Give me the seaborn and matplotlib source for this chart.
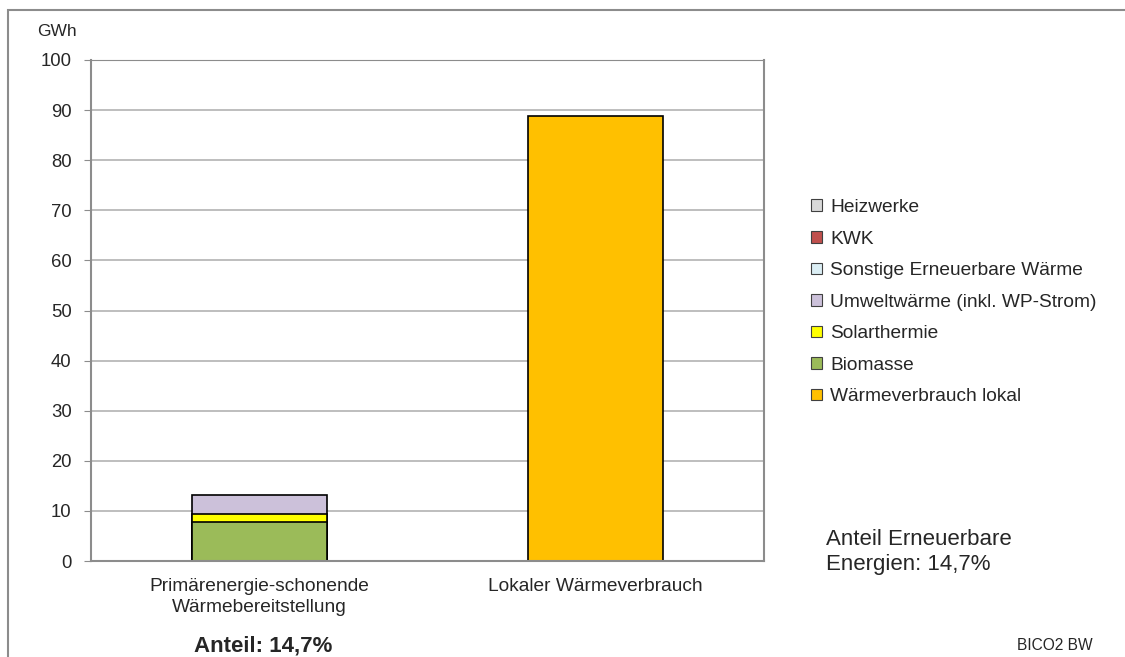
import numpy as np
import pandas as pd
import matplotlib
matplotlib.use('Agg')
import matplotlib.pyplot as plt
import matplotlib.patches as mpatches
import seaborn as sns

# Daten
kategorien = ['Primärenergie-schonende\nWärmebereitstellung', 'Lokaler Wärmeverbrauch']
serien = ['Heizwerke', 'KWK', 'Sonstige Erneuerbare Wärme',
          'Umweltwärme (inkl. WP-Strom)', 'Solarthermie', 'Biomasse',
          'Wärmeverbrauch lokal']
heizwerke = [0.0, 0.0]
kwk = [0.0, 0.0]
sonstige = [0.0, 0.0]
umweltwaerme = [3.7, 0.0]
solarthermie = [1.7, 0.0]
biomasse = [7.7, 0.0]
waermeverbrauch = [0.0, 88.9]

farben = ['#d9d9d9', '#c0504d', '#dbeef4', '#ccc1da', '#ffff00', '#9bbb59', '#ffc000']

sns.set_style('white')
plt.rcParams['font.family'] = ['Liberation Sans', 'DejaVu Sans']

fig = plt.figure(figsize=(11.25, 6.57), dpi=100)
ax = fig.add_axes([91/1125, 96/657, 673/1125, 501/657])

# gestapelt: von unten nach oben
werte = [biomasse, solarthermie, umweltwaerme, sonstige, kwk, heizwerke, waermeverbrauch]
namen = ['Biomasse', 'Solarthermie', 'Umweltwärme (inkl. WP-Strom)',
         'Sonstige Erneuerbare Wärme', 'KWK', 'Heizwerke', 'Wärmeverbrauch lokal']
farbmap = dict(zip(serien, farben))

kum = np.cumsum(np.array(werte), axis=0)
# von oben nach unten zeichnen, damit untere Segmente überdecken
for i in range(len(namen) - 1, -1, -1):
    hoehe = kum[i]
    eigen = np.array(werte[i])
    df = pd.DataFrame({'kat': kategorien, 'wert': np.where(eigen > 0, hoehe, np.nan)})
    if df['wert'].notna().sum() == 0:
        continue
    sns.barplot(data=df, x='kat', y='wert', order=kategorien, color=farbmap[namen[i]],
                width=0.4, edgecolor='black', linewidth=1.2, saturation=1, ax=ax)

ax.set_ylim(0, 100)
ax.set_xlim(-0.5, 1.5)
ax.set_yticks(np.arange(0, 101, 10))
ax.set_xlabel('')
ax.set_ylabel('')
ax.yaxis.grid(True, color='#b3b3b3', linewidth=1.2)
ax.set_axisbelow(True)
for s in ['left', 'bottom', 'right']:
    ax.spines[s].set_color('#8c8c8c')
    ax.spines[s].set_linewidth(1.5)
ax.spines['top'].set_color('#8c8c8c')
ax.tick_params(axis='y', left=True, length=5, color='#8c8c8c', labelsize=13.3, pad=9)
ax.tick_params(axis='x', bottom=False, labelsize=13.8, pad=9)
for lbl in ax.get_xticklabels():
    lbl.set_linespacing(1.25)

fig.text(57/1125, 1 - 31/657, 'GWh', ha='center', va='center', fontsize=12.5)

# Legende
handles = [mpatches.Patch(facecolor=farbmap[s], edgecolor='#404040', linewidth=0.8) for s in serien]
fig.legend(handles, serien, loc='upper left', bbox_to_anchor=(811/1125, 1 - 199/657),
           frameon=False, fontsize=13.8, handlelength=0.55, handleheight=0.55,
           handletextpad=0.45, labelspacing=0.76, borderpad=0, borderaxespad=0)

fig.text(826/1125, 1 - 552/657, 'Anteil Erneuerbare\nEnergien: 14,7%', ha='left', va='center',
         fontsize=16, linespacing=1.2)
fig.text(263/1125, 1 - 646/657, 'Anteil: 14,7%', ha='center', va='center',
         fontsize=16, fontweight='bold')
fig.text(1093/1125, 1 - 646/657, 'BICO2 BW', ha='right', va='center', fontsize=11.2)

# Rahmen
fig.patches.append(mpatches.Rectangle((8/1125, -0.05), 1.0, 1 - 10/657 + 0.05,
                                      transform=fig.transFigure, fill=False,
                                      edgecolor='#8c8c8c', linewidth=1.5))

fig.savefig('out.png', dpi=100)
